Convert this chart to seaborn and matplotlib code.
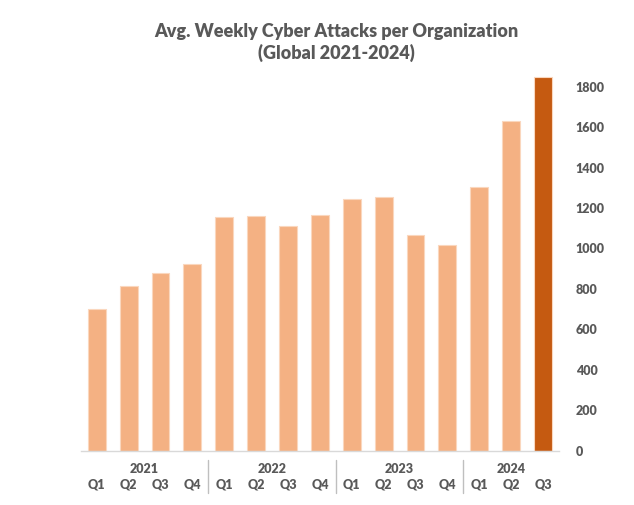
import matplotlib
matplotlib.use("Agg")
import matplotlib.pyplot as plt
import seaborn as sns
import pandas as pd

years = ["2021", "2022", "2023", "2024"]
quarters = ["Q1", "Q2", "Q3", "Q4", "Q1", "Q2", "Q3", "Q4", "Q1", "Q2", "Q3", "Q4", "Q1", "Q2", "Q3"]
quarter_years = ["2021"] * 4 + ["2022"] * 4 + ["2023"] * 4 + ["2024"] * 3
values = [699, 813, 880, 925, 1156, 1161, 1111, 1167, 1245, 1255, 1067, 1017, 1304, 1630, 1847]
highlight = ["past"] * 14 + ["current"]
title = "Avg. Weekly Cyber Attacks per Organization\n(Global 2021-2024)"

sns.set_theme(style="white")
plt.rcParams["font.family"] = ["Lato", "DejaVu Sans"]

df = pd.DataFrame({
    "period": [f"{y} {q}" for y, q in zip(quarter_years, quarters)],
    "value": values,
    "group": highlight,
})

fig = plt.figure(figsize=(6.34, 5.05), dpi=100)
ax = fig.add_axes([0.1274, 0.1075, 0.7543, 0.7608])
sns.barplot(data=df, x="period", y="value", hue="group",
            palette={"past": "#F4B183", "current": "#C55A11"},
            saturation=1, dodge=False, legend=False, width=0.56, ax=ax,
            edgecolor="#FAD7BE", linewidth=0.8)

ax.set_xlim(-0.5, len(values) - 0.5)
ax.set_ylim(0, 1900)
ax.set_xlabel("")
ax.set_ylabel("")
for s in ["top", "left", "right"]:
    ax.spines[s].set_visible(False)
ax.spines["bottom"].set_color("#D9D9D9")
ax.spines["bottom"].set_linewidth(1.0)

ax.yaxis.tick_right()
ax.set_yticks(range(0, 1801, 200))
ax.set_yticklabels([str(v) for v in range(0, 1801, 200)])
ax.tick_params(axis="y", length=0, pad=12, labelsize=9, labelcolor="#595959")
for lbl in ax.get_yticklabels():
    lbl.set_fontweight("heavy")
    lbl.set_horizontalalignment("left")

ax.set_xticks([])
trans = ax.get_xaxis_transform()
for i, q in enumerate(quarters):
    ax.text(i, -0.087, q, transform=trans, ha="center", va="center",
            fontsize=9, fontweight="heavy", color="#595959")
start = 0
for y in years:
    n = quarter_years.count(y)
    ax.text(start + (n - 1) / 2, -0.047, y, transform=trans, ha="center", va="center",
            fontsize=9, fontweight="heavy", color="#595959")
    if start > 0:
        ax.plot([start - 0.5, start - 0.5], [-0.024, -0.109], transform=trans,
                color="#BFBFBF", linewidth=1.0, clip_on=False)
    start += n

fig.text(0.53, 0.955, title, ha="center", va="top", fontsize=13,
         fontweight="heavy", color="#595959", linespacing=1.3)

fig.savefig("out.png", dpi=100)
